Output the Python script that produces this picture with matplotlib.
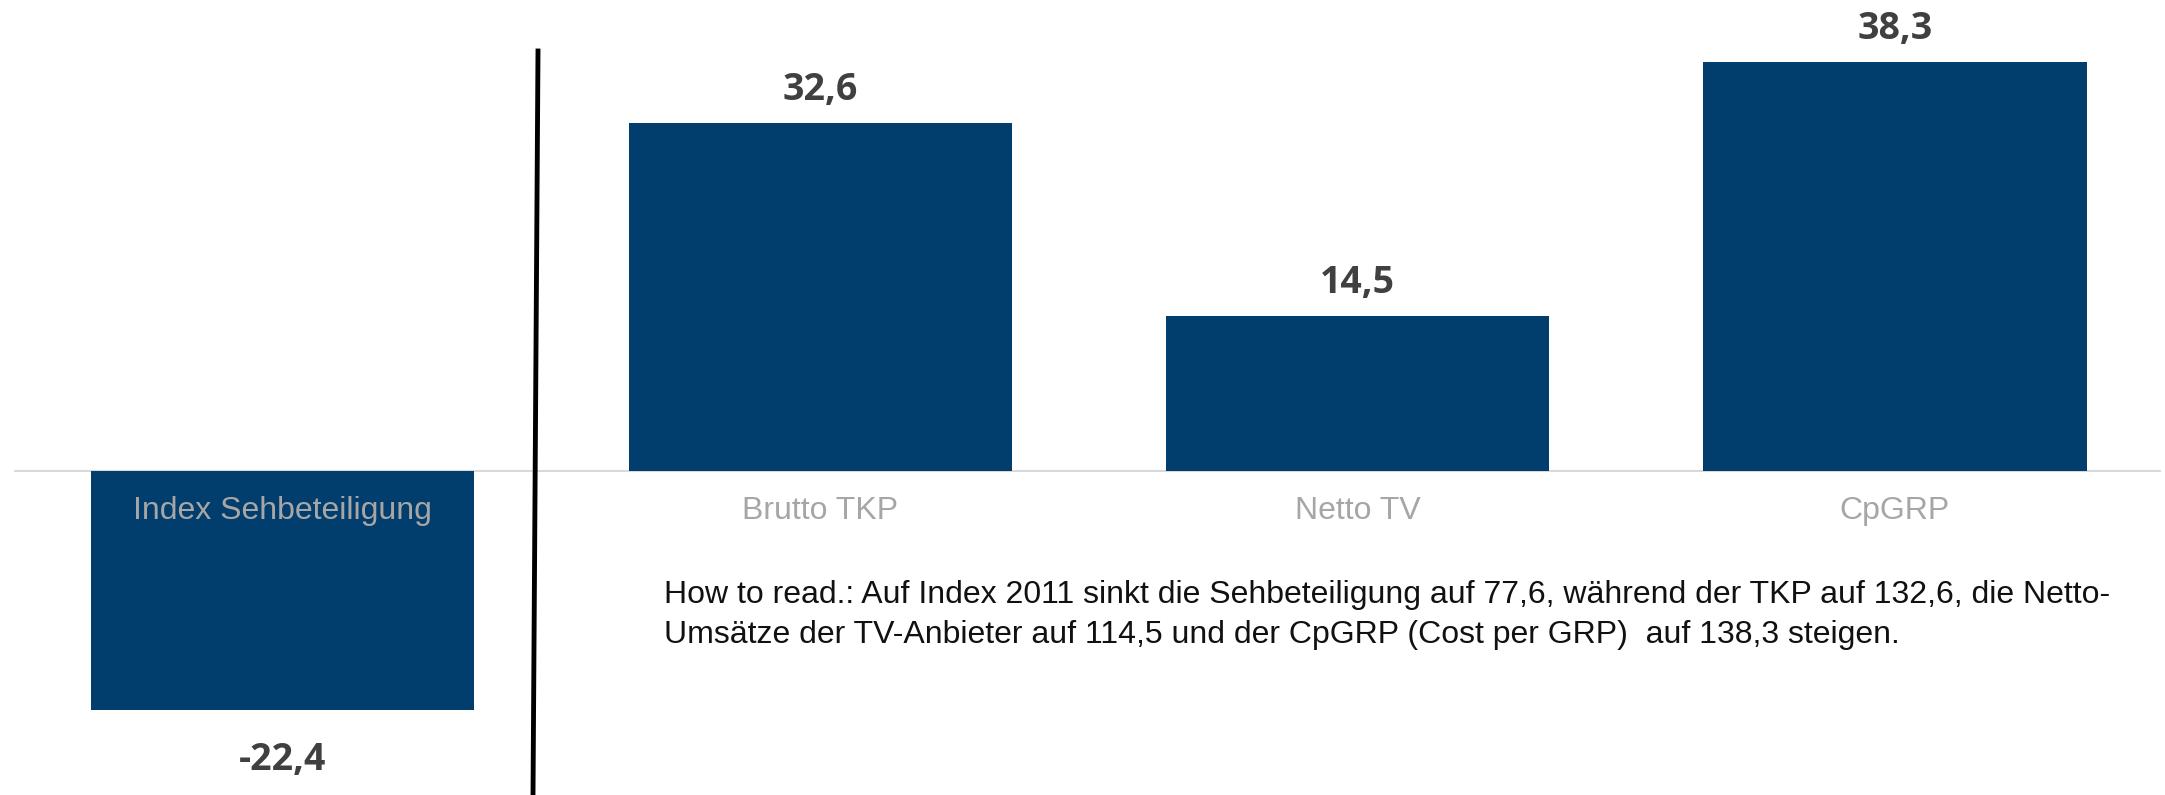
import matplotlib
matplotlib.use("Agg")
import matplotlib.pyplot as plt
from matplotlib.lines import Line2D

categories = ["Index Sehbeteiligung", "Brutto TKP", "Netto TV", "CpGRP"]
values = [-22.4, 32.6, 14.5, 38.3]
value_labels = ["-22,4", "32,6", "14,5", "38,3"]
note = ("How to read.: Auf Index 2011 sinkt die Sehbeteiligung auf 77,6, während der TKP auf 132,6, die Netto-\n"
        "Umsätze der TV-Anbieter auf 114,5 und der CpGRP (Cost per GRP)  auf 138,3 steigen.")

W, H = 2165, 795
fig = plt.figure(figsize=(W / 100, H / 100), dpi=100)
ax = fig.add_axes([14 / W, 0, 2147 / W, 1])
ax.set_xlim(-0.5, 3.495)
ax.set_ylim(-30.37, 44.14)
ax.axis("off")

bar_color = "#023E6D"
x = list(range(len(categories)))
ax.bar(x, values, width=0.713, color=bar_color, zorder=2)
ax.axhline(0, color="#D9D9D9", lw=1.5, zorder=1)

for xi, v, lab, cat in zip(x, values, value_labels, categories):
    off = 33 if v >= 0 else -50
    ax.annotate(lab, (xi, v), xytext=(0, off), textcoords="offset pixels",
                ha="center", va="center", fontsize=27, fontweight="bold",
                family="Open Sans", color="#404040")
    ax.annotate(cat, (xi, 0), xytext=(0, -40), textcoords="offset pixels",
                ha="center", va="center", fontsize=23,
                family="Liberation Sans", color="#A6A6A6", zorder=3)

fig.text(664 / W, 1 - 615 / H, note, ha="left", va="center", fontsize=23,
         family="Liberation Sans", color="#111111", linespacing=1.42)

fig.add_artist(Line2D([538 / W, 533 / W], [1 - 51 / H, 0], transform=fig.transFigure,
                      color="black", lw=3.5))

fig.savefig("out.png", dpi=100)
